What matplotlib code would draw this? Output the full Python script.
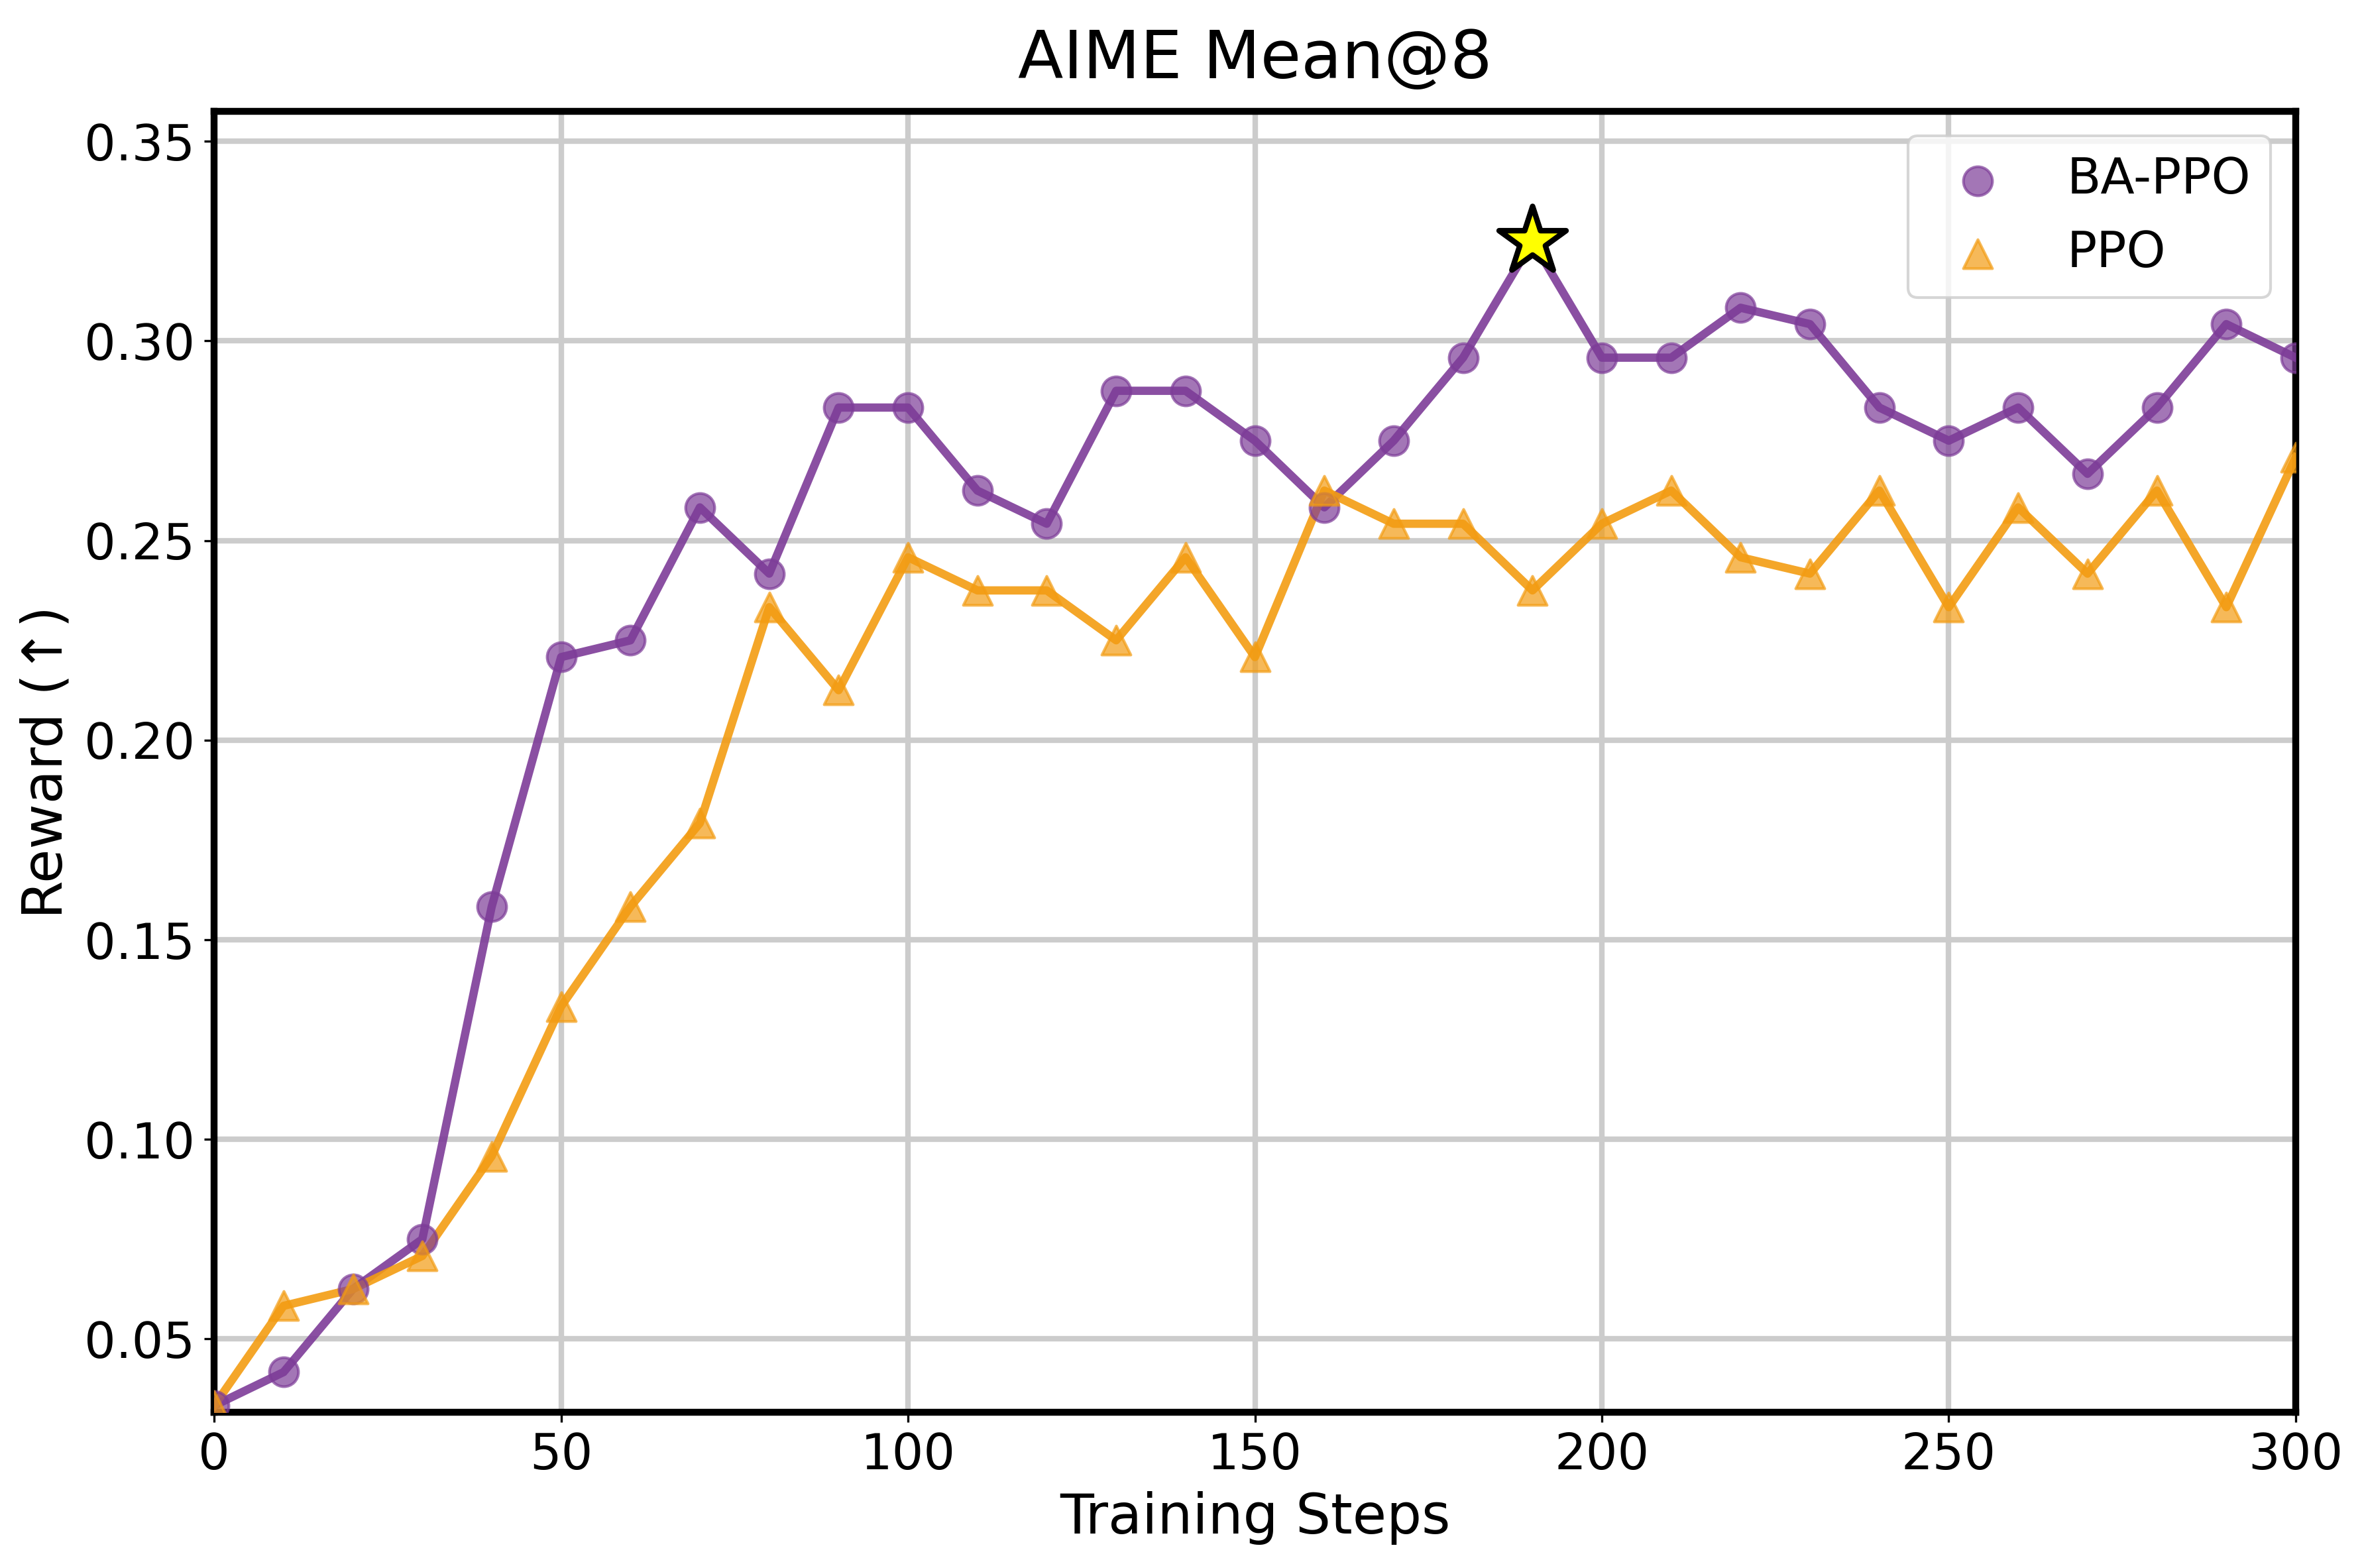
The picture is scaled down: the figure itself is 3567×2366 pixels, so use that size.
import numpy as np
import matplotlib
matplotlib.use("Agg")
import matplotlib.pyplot as plt

steps = np.arange(0, 301, 10)

ba_ppo = [0.0333, 0.0417, 0.0625, 0.0750, 0.1583, 0.2208, 0.2250, 0.2583,
          0.2417, 0.2833, 0.2833, 0.2625, 0.2542, 0.2875, 0.2875, 0.2750,
          0.2583, 0.2750, 0.2958, 0.3250, 0.2958, 0.2958, 0.3083, 0.3042,
          0.2833, 0.2750, 0.2833, 0.2667, 0.2833, 0.3042, 0.2958]

ppo = [0.0333, 0.0583, 0.0625, 0.0708, 0.0958, 0.1333, 0.1583, 0.1792,
       0.2333, 0.2125, 0.2458, 0.2375, 0.2375, 0.2250, 0.2458, 0.2208,
       0.2625, 0.2542, 0.2542, 0.2375, 0.2542, 0.2625, 0.2458, 0.2417,
       0.2625, 0.2333, 0.2583, 0.2417, 0.2625, 0.2333, 0.2708]

purple = "#7D3C98"
orange = "#F39C12"

fig = plt.figure(figsize=(3567 / 300, 2366 / 300), dpi=300)
ax = fig.add_axes([0.0906, 0.0993, 0.8805, 0.8297])

ax.plot(steps, ba_ppo, color=purple, lw=3, alpha=0.9, zorder=3)
ax.scatter(steps, ba_ppo, color=purple, s=110, alpha=0.7, marker="o",
           zorder=4, label="BA-PPO")
ax.plot(steps, ppo, color=orange, lw=3, alpha=0.9, zorder=3)
ax.scatter(steps, ppo, color=orange, s=110, alpha=0.7, marker="^",
           zorder=4, label="PPO")

# best BA-PPO point
best = int(np.argmax(ba_ppo))
ax.scatter(steps[best], ba_ppo[best], marker="*", s=650, color="yellow",
           edgecolors="black", linewidths=2, zorder=6)

all_vals = np.concatenate([ba_ppo, ppo])
ax.set_xlim(0, 300)
ax.set_ylim(all_vals.min() * 0.95, all_vals.max() * 1.1)
ax.set_xticks(np.arange(0, 301, 50))
ax.set_yticks(np.arange(0.05, 0.351, 0.05))
ax.yaxis.set_major_formatter(matplotlib.ticker.FormatStrFormatter("%.2f"))
ax.tick_params(labelsize=18)

ax.grid(True, color="#cccccc", lw=2)
ax.set_axisbelow(True)
for s in ax.spines.values():
    s.set_linewidth(2.5)

ax.set_xlabel("Training Steps", fontsize=20)
ax.set_ylabel("Reward (↑)", fontsize=20)
ax.set_title("AIME Mean@8", fontsize=24, pad=12)
ax.legend(loc="upper right", fontsize=18)

fig.savefig("out.png", dpi=300)
